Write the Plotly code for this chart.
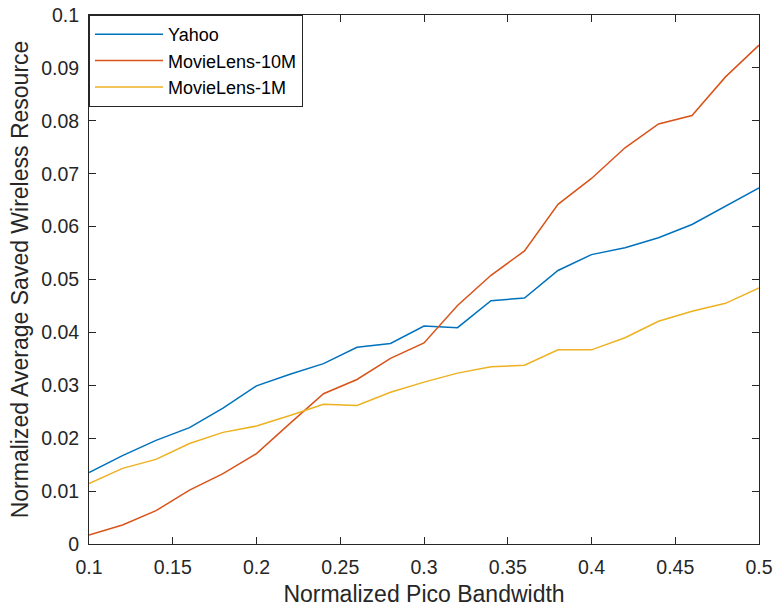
import plotly.graph_objects as go

# Normalized pico bandwidth (x) and saved wireless resource per dataset
bandwidth = [0.10, 0.12, 0.14, 0.16, 0.18, 0.20, 0.22, 0.24, 0.26, 0.28, 0.30,
             0.32, 0.34, 0.36, 0.38, 0.40, 0.42, 0.44, 0.46, 0.48, 0.50]

yahoo = [0.0135, 0.0167, 0.0196, 0.0220, 0.0257, 0.0299, 0.0321, 0.0341, 0.0372, 0.0379, 0.0412,
         0.0409, 0.0460, 0.0465, 0.0517, 0.0547, 0.0560, 0.0579, 0.0604, 0.0638, 0.0673]

movielens_10m = [0.0017, 0.0036, 0.0063, 0.0102, 0.0133, 0.0171, 0.0228, 0.0284, 0.0311, 0.0351, 0.0380,
                 0.0451, 0.0508, 0.0554, 0.0642, 0.0691, 0.0749, 0.0794, 0.0810, 0.0883, 0.0943]

movielens_1m = [0.0114, 0.0143, 0.0160, 0.0190, 0.0211, 0.0223, 0.0243, 0.0264, 0.0262, 0.0287, 0.0306,
                0.0323, 0.0335, 0.0338, 0.0367, 0.0367, 0.0390, 0.0421, 0.0440, 0.0455, 0.0484]

series = [
    ("Yahoo", yahoo, "#0072BD"),
    ("MovieLens-10M", movielens_10m, "#D95319"),
    ("MovieLens-1M", movielens_1m, "#EDB120"),
]

FONT = "Liberation Sans, Arial, Helvetica, sans-serif"
AXIS_COLOR = "#262626"

fig = go.Figure()
for name, values, color in series:
    fig.add_trace(go.Scatter(
        x=bandwidth, y=values, name=name, mode="lines",
        line=dict(color=color, width=1.5),
    ))

axis_common = dict(
    showline=True, linecolor=AXIS_COLOR, linewidth=1, mirror="ticks",
    ticks="inside", ticklen=7, tickcolor=AXIS_COLOR, tickwidth=1,
    showgrid=False, zeroline=False,
    tickfont=dict(family=FONT, size=19.5, color=AXIS_COLOR),
)

fig.update_xaxes(
    range=[0.1, 0.5], dtick=0.05, tick0=0.1,
    title=dict(text="Normalized Pico Bandwidth",
               font=dict(family=FONT, size=23, color=AXIS_COLOR), standoff=10),
    ticklabelstandoff=6,
    **axis_common,
)
fig.update_yaxes(
    range=[0, 0.1], dtick=0.01, tick0=0,
    title=dict(text="Normalized Average Saved Wireless Resource",
               font=dict(family=FONT, size=23, color=AXIS_COLOR), standoff=6),
    ticklabelstandoff=5,
    **axis_common,
)

fig.update_layout(
    width=774, height=607,
    margin=dict(l=89, r=15, t=15, b=63, autoexpand=False),
    paper_bgcolor="white", plot_bgcolor="white",
    showlegend=True,
    legend=dict(
        x=0, y=1, xanchor="left", yanchor="top",
        bgcolor="white", bordercolor=AXIS_COLOR, borderwidth=1,
        font=dict(family=FONT, size=18, color="black"),
        itemwidth=68,
    ),
)

fig.write_html("out.html")
